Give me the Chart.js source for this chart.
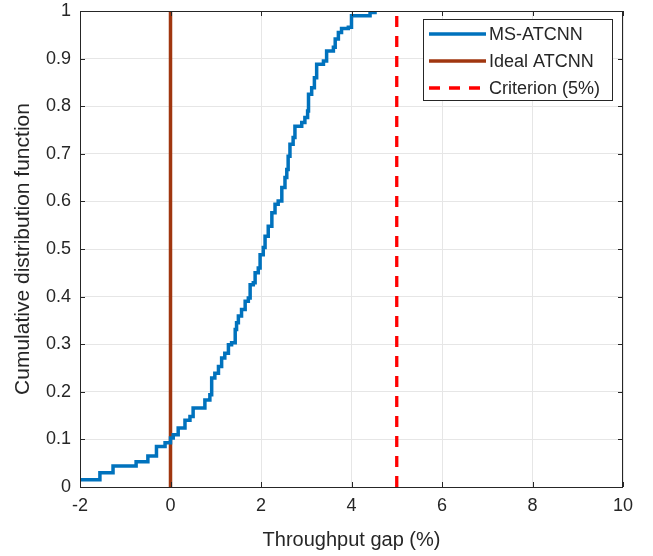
<!DOCTYPE html>
<html>
<head>
<meta charset="utf-8">
<script src="https://cdn.jsdelivr.net/npm/chart.js@4"></script>
<style>
  html, body { margin: 0; padding: 0; background: #fff; }
  #wrap { width: 653px; height: 556px; }
</style>
</head>
<body>
<div id="wrap"><canvas id="chart" width="653" height="556"></canvas></div>
<script>
// ECDF of MS-ATCNN throughput gap (x in %, y = cumulative probability)
const gapX = [-2, -1.56, -1.27, -0.76, -0.5, -0.31, -0.12, 0, 0.06, 0.17, 0.32, 0.43, 0.5,
  0.76, 0.87, 0.91, 0.98, 1.06, 1.13, 1.2, 1.28, 1.35, 1.43, 1.46, 1.5, 1.57, 1.65, 1.72, 1.76,
  1.83, 1.87, 1.94, 1.98, 2.05, 2.09, 2.16, 2.24, 2.31, 2.38, 2.46, 2.53, 2.57, 2.6, 2.64, 2.71,
  2.75, 2.9, 2.97, 3.03, 3.05, 3.12, 3.18, 3.23, 3.38, 3.45, 3.6, 3.64, 3.71, 3.78, 3.93, 4.0,
  4.41, 4.52];
const cdfY = [0.015, 0.03, 0.044, 0.053, 0.065, 0.085, 0.093, 0.103, 0.11, 0.124, 0.14, 0.148, 0.166,
  0.183, 0.194, 0.229, 0.239, 0.253, 0.271, 0.281, 0.299, 0.303, 0.331, 0.345, 0.359, 0.373, 0.39, 0.397, 0.425,
  0.429, 0.45, 0.46, 0.488, 0.503, 0.527, 0.548, 0.576, 0.594, 0.601, 0.629, 0.65, 0.667, 0.695, 0.72, 0.734,
  0.758, 0.766, 0.776, 0.79, 0.825, 0.839, 0.86, 0.888, 0.895, 0.916, 0.924, 0.941, 0.955, 0.963, 0.966, 0.99,
  0.997, 1.0];

const idealX = [0, 0];
const idealY = [0, 1];
const criterionX = [5, 5];
const criterionY = [0, 1];

const seriesLabels = ['MS-ATCNN', 'Ideal ATCNN', 'Criterion (5%)'];
const xTicks = [-2, 0, 2, 4, 6, 8, 10];
const yTicks = [0, 0.1, 0.2, 0.3, 0.4, 0.5, 0.6, 0.7, 0.8, 0.9, 1];

const FONT = "'Liberation Sans', Arial, Helvetica, sans-serif";
const TEXT = '#262626';

function toPoints(xs, ys) {
  return xs.map(function(x, i) { return { x: x, y: ys[i] }; });
}

// box + inward ticks like MATLAB axes
const boxPlugin = {
  id: 'boxPlugin',
  afterDatasetsDraw(chart) {
    const { ctx, chartArea: a, scales } = chart;
    ctx.save();
    ctx.strokeStyle = '#262626';
    ctx.lineWidth = 1;
    ctx.strokeRect(a.left + 0.5, a.top + 0.5, a.right - a.left - 1, a.bottom - a.top);
    ctx.beginPath();
    xTicks.forEach(function(t) {
      const px = Math.round(scales.x.getPixelForValue(t)) + 0.5;
      ctx.moveTo(px, a.bottom); ctx.lineTo(px, a.bottom - 5);
      ctx.moveTo(px, a.top); ctx.lineTo(px, a.top + 5);
    });
    yTicks.forEach(function(t) {
      const py = Math.round(scales.y.getPixelForValue(t)) + 0.5;
      ctx.moveTo(a.left, py); ctx.lineTo(a.left + 5, py);
      ctx.moveTo(a.right, py); ctx.lineTo(a.right - 5, py);
    });
    ctx.stroke();
    ctx.restore();
  }
};

// legend box in the top right corner
const legendPlugin = {
  id: 'legendBox',
  afterDraw(chart) {
    const ctx = chart.ctx;
    const x0 = 423, y0 = 19, w = 189, h = 81;
    ctx.save();
    ctx.fillStyle = '#fff';
    ctx.fillRect(x0, y0, w, h);
    ctx.strokeStyle = '#262626';
    ctx.lineWidth = 1;
    ctx.strokeRect(x0 + 0.5, y0 + 0.5, w, h);
    ctx.font = '18px ' + FONT;
    ctx.textBaseline = 'middle';
    chart.data.datasets.forEach(function(ds, i) {
      const cy = y0 + 15 + i * 27;
      ctx.strokeStyle = ds.borderColor;
      ctx.lineWidth = 3.5;
      ctx.setLineDash(ds.borderDash || []);
      ctx.beginPath();
      ctx.moveTo(x0 + 6, cy);
      ctx.lineTo(x0 + 63, cy);
      ctx.stroke();
      ctx.setLineDash([]);
      ctx.fillStyle = TEXT;
      ctx.fillText(ds.label, x0 + 66, cy + 1);
    });
    ctx.restore();
  }
};

new Chart(document.getElementById('chart'), {
  type: 'line',
  data: {
    datasets: [{
      label: seriesLabels[0],
      data: toPoints(gapX, cdfY),
      borderColor: '#0072BD',
      borderWidth: 3.5,
      stepped: true,
      pointRadius: 0,
      fill: false
    }, {
      label: seriesLabels[1],
      data: toPoints(idealX, idealY),
      borderColor: '#A0360F',
      borderWidth: 3.5,
      pointRadius: 0,
      fill: false
    }, {
      label: seriesLabels[2],
      data: toPoints(criterionX, criterionY),
      borderColor: '#FF0000',
      borderWidth: 3.3,
      borderDash: [11, 9],
      pointRadius: 0,
      fill: false
    }]
  },
  options: {
    responsive: false,
    animation: false,
    layout: { padding: { top: 0, right: 30, left: 0, bottom: 0 } },
    plugins: { legend: { display: false }, tooltip: { enabled: false } },
    scales: {
      x: {
        type: 'linear',
        min: -2, max: 10,
        afterBuildTicks: function(s) { s.ticks = xTicks.map(function(v) { return { value: v }; }); },
        afterFit: function(s) { s.height = 69; },
        grid: { color: '#e6e6e6', drawTicks: false },
        border: { display: false },
        ticks: { color: TEXT, font: { family: FONT, size: 18 }, padding: 8, maxRotation: 0 },
        title: { display: true, text: 'Throughput gap (%)', color: TEXT, font: { family: FONT, size: 20 }, padding: { top: 1 } }
      },
      y: {
        type: 'linear',
        min: 0, max: 1,
        afterBuildTicks: function(s) { s.ticks = yTicks.map(function(v) { return { value: v }; }); },
        afterFit: function(s) { s.width = 80; s.paddingTop = 11; s.paddingBottom = 0; },
        grid: { color: '#e6e6e6', drawTicks: false },
        border: { display: false },
        ticks: { color: TEXT, font: { family: FONT, size: 18 }, padding: 9, callback: function(v) { return String(Math.round(v * 10) / 10); } },
        title: { display: true, text: 'Cumulative distribution function', color: TEXT, font: { family: FONT, size: 21 }, padding: { top: 11, bottom: 0 } }
      }
    }
  },
  plugins: [boxPlugin, legendPlugin]
});
</script>
</body>
</html>
